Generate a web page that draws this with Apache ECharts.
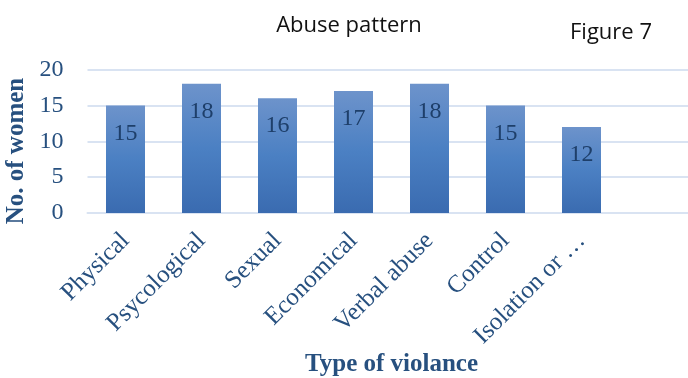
<!DOCTYPE html>
<html>
<head>
<meta charset="utf-8">
<script src="https://cdn.jsdelivr.net/npm/echarts@6/dist/echarts.min.js"></script>
<style>
  html, body { margin: 0; padding: 0; background: #fff; }
  #chart { width: 688px; height: 378px; }
</style>
</head>
<body>
<div id="chart"></div>
<script>
// Categories of violence (last slot is left empty on the axis)
const categories = ['Physical', 'Psycological', 'Sexual', 'Economical', 'Verbal abuse', 'Control', 'Isolation or …', ''];
// Number of women reporting each type
const counts = [15, 18, 16, 17, 18, 15, 12, null];
// Value axis ticks
const yMin = 0, yMax = 20, yStep = 5;

const serif = '"Liberation Serif", "DejaVu Serif", serif';
const sans = '"Open Sans", sans-serif';
const labelBlue = '#27507f';

const chart = echarts.init(document.getElementById('chart'), null, { renderer: 'canvas' });
chart.setOption({
  backgroundColor: '#ffffff',
  animation: false,
  title: [
    { text: 'Abuse pattern', left: 344, top: 10, textAlign: 'center',
      textStyle: { fontFamily: sans, fontWeight: 'normal', fontSize: 22, color: '#111' } },
    { text: 'Figure 7', left: 606, top: 17, textAlign: 'center',
      textStyle: { fontFamily: sans, fontWeight: 'normal', fontSize: 22, color: '#111' } }
  ],
  grid: { left: 87.5, right: -7.5, top: 69.5, bottom: 165, containLabel: false, outerBoundsMode: 'none' },
  xAxis: {
    type: 'category',
    data: categories,
    axisLine: { show: true, lineStyle: { color: '#d9e3f2', width: 2 } },
    axisTick: { show: false },
    axisLabel: { interval: 0, rotate: 45, margin: 24, fontFamily: serif, fontSize: 25, color: labelBlue },
    name: 'Type of violance',
    nameLocation: 'middle',
    nameGap: 132,
    nameTextStyle: { fontFamily: serif, fontWeight: 'bold', fontSize: 25, color: labelBlue }
  },
  yAxis: {
    type: 'value',
    min: yMin, max: yMax, interval: yStep,
    axisLine: { show: false },
    axisTick: { show: false },
    splitLine: { lineStyle: { color: '#d9e3f2', width: 2 } },
    axisLabel: { margin: 24, fontFamily: serif, fontSize: 24, color: labelBlue }
  },
  graphic: [{
    type: 'text',
    x: 17, y: 151,
    rotation: Math.PI / 2,
    style: {
      text: 'No. of women',
      fontFamily: serif, fontWeight: 'bold', fontSize: 25,
      fill: labelBlue, align: 'center', verticalAlign: 'middle'
    }
  }],
  series: [{
    type: 'bar',
    data: counts,
    barWidth: 39,
    itemStyle: {
      color: new echarts.graphic.LinearGradient(0, 0, 0, 1, [
        { offset: 0, color: '#6d93cb' },
        { offset: 0.5, color: '#4b80c3' },
        { offset: 1, color: '#3a6bb0' }
      ])
    },
    label: {
      show: true,
      position: 'insideTop',
      distance: 16,
      fontFamily: serif,
      fontSize: 24,
      color: '#1e3f6a'
    }
  }]
});
</script>
</body>
</html>
